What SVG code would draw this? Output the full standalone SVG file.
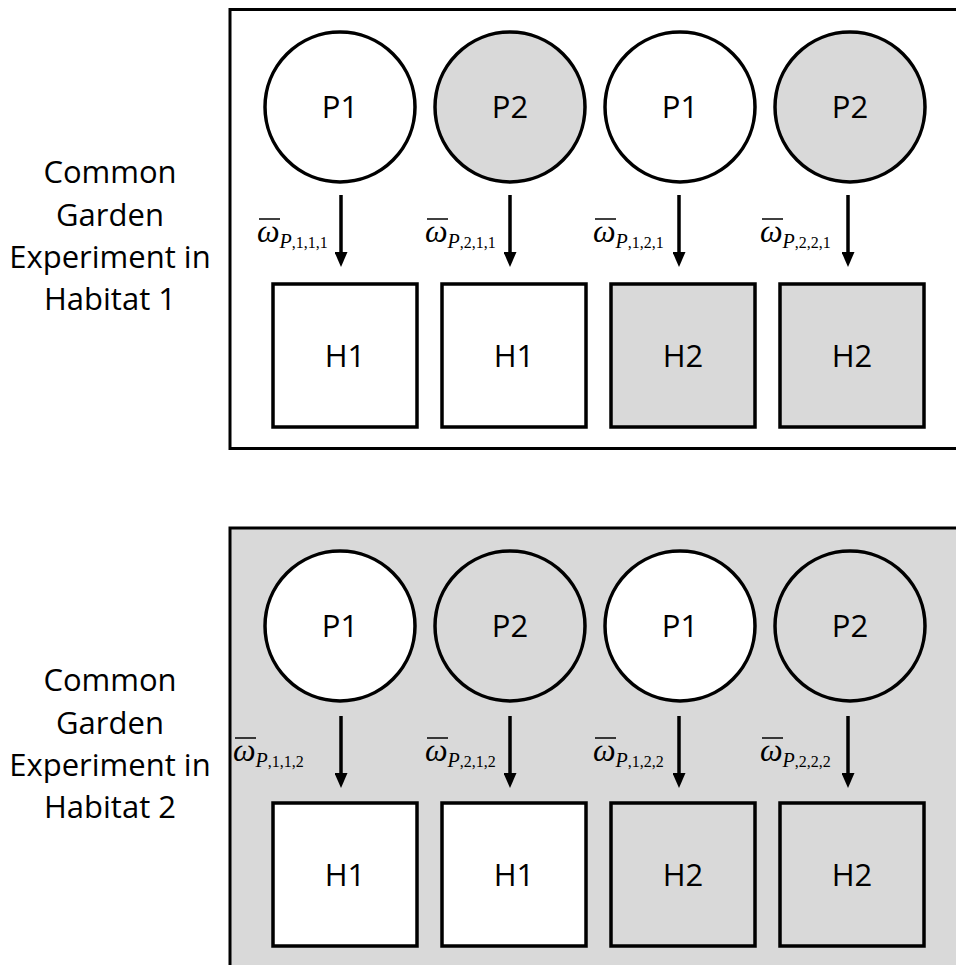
<svg xmlns="http://www.w3.org/2000/svg" width="956" height="965" viewBox="0 0 956 965">
<defs>
<style>
.frame{stroke:#000;stroke-width:3}
.node{stroke:#000;stroke-width:3.5}
.w{fill:#fff}
.g{fill:#d9d9d9}
.lbl{font-family:"Open Sans","Noto Sans",sans-serif;font-size:31px;fill:#000;text-anchor:middle}
.om{font-family:"Liberation Serif",serif;fill:#000}
.bar{stroke:#000;stroke-width:1.5}
.arr{stroke:#000;stroke-width:3.5;fill:none}
</style>
<marker id="ah" markerUnits="userSpaceOnUse" markerWidth="15" markerHeight="13" refX="0" refY="6.5" orient="auto" viewBox="0 0 15 13">
<path d="M0,0 L15,6.5 L0,13 Z" fill="#000"/>
</marker>
</defs>
<rect width="956" height="965" fill="#fff"/>

<g id="frame1"><rect class="frame" x="230" y="9.5" width="800" height="439" fill="#fff"/></g>
<g id="frame2"><rect class="frame" x="230" y="528" width="800" height="500" fill="#d9d9d9"/></g>

<g id="label1" class="lbl">
<text x="110" y="183">Common</text>
<text x="110" y="226">Garden</text>
<text x="110" y="268">Experiment in</text>
<text x="110" y="310">Habitat 1</text>
</g>
<g id="label2" class="lbl">
<text x="110" y="691">Common</text>
<text x="110" y="734">Garden</text>
<text x="110" y="776">Experiment in</text>
<text x="110" y="818">Habitat 2</text>
</g>

<!-- top row nodes -->
<g id="t-p1a"><circle class="node w" cx="340" cy="107" r="75"/><text class="lbl" x="340" y="118">P1</text></g>
<g id="t-p2a"><circle class="node g" cx="510" cy="107" r="75"/><text class="lbl" x="510" y="118">P2</text></g>
<g id="t-p1b"><circle class="node w" cx="680" cy="107" r="75"/><text class="lbl" x="680" y="118">P1</text></g>
<g id="t-p2b"><circle class="node g" cx="850" cy="107" r="75"/><text class="lbl" x="850" y="118">P2</text></g>
<g id="t-h1a"><rect class="node w" x="273" y="284" width="144" height="143"/><text class="lbl" x="345" y="367">H1</text></g>
<g id="t-h1b"><rect class="node w" x="442" y="284" width="144" height="143"/><text class="lbl" x="514" y="367">H1</text></g>
<g id="t-h2a"><rect class="node g" x="611" y="284" width="144" height="143"/><text class="lbl" x="683" y="367">H2</text></g>
<g id="t-h2b"><rect class="node g" x="780" y="284" width="144" height="143"/><text class="lbl" x="852" y="367">H2</text></g>

<!-- bottom row nodes -->
<g id="b-p1a"><circle class="node w" cx="340" cy="626" r="75"/><text class="lbl" x="340" y="637">P1</text></g>
<g id="b-p2a"><circle class="node g" cx="510" cy="626" r="75"/><text class="lbl" x="510" y="637">P2</text></g>
<g id="b-p1b"><circle class="node w" cx="680" cy="626" r="75"/><text class="lbl" x="680" y="637">P1</text></g>
<g id="b-p2b"><circle class="node g" cx="850" cy="626" r="75"/><text class="lbl" x="850" y="637">P2</text></g>
<g id="b-h1a"><rect class="node w" x="273" y="803" width="144" height="143"/><text class="lbl" x="345" y="886">H1</text></g>
<g id="b-h1b"><rect class="node w" x="442" y="803" width="144" height="143"/><text class="lbl" x="514" y="886">H1</text></g>
<g id="b-h2a"><rect class="node g" x="611" y="803" width="144" height="143"/><text class="lbl" x="683" y="886">H2</text></g>
<g id="b-h2b"><rect class="node g" x="780" y="803" width="144" height="143"/><text class="lbl" x="852" y="886">H2</text></g>

<g id="connectors">
<line class="arr" x1="341" y1="195" x2="341" y2="252" marker-end="url(#ah)"/>
<line class="arr" x1="510" y1="195" x2="510" y2="252" marker-end="url(#ah)"/>
<line class="arr" x1="679" y1="195" x2="679" y2="252" marker-end="url(#ah)"/>
<line class="arr" x1="848" y1="195" x2="848" y2="252" marker-end="url(#ah)"/>
<line class="arr" x1="341" y1="716" x2="341" y2="773" marker-end="url(#ah)"/>
<line class="arr" x1="510" y1="716" x2="510" y2="773" marker-end="url(#ah)"/>
<line class="arr" x1="679" y1="716" x2="679" y2="773" marker-end="url(#ah)"/>
<line class="arr" x1="848" y1="716" x2="848" y2="773" marker-end="url(#ah)"/>
</g>

<g id="edge-labels">
<g id="l-t1"><line class="bar" x1="259" y1="219" x2="280" y2="219"/><text class="om" x="257" y="242"><tspan font-size="32" font-style="italic">ω</tspan><tspan font-size="20" font-style="italic" dy="6">P</tspan><tspan font-size="16">,1,1,1</tspan></text></g>
<g id="l-t2"><line class="bar" x1="427" y1="219" x2="448" y2="219"/><text class="om" x="425" y="242"><tspan font-size="32" font-style="italic">ω</tspan><tspan font-size="20" font-style="italic" dy="6">P</tspan><tspan font-size="16">,2,1,1</tspan></text></g>
<g id="l-t3"><line class="bar" x1="595" y1="219" x2="616" y2="219"/><text class="om" x="593" y="242"><tspan font-size="32" font-style="italic">ω</tspan><tspan font-size="20" font-style="italic" dy="6">P</tspan><tspan font-size="16">,1,2,1</tspan></text></g>
<g id="l-t4"><line class="bar" x1="762" y1="219" x2="783" y2="219"/><text class="om" x="760" y="242"><tspan font-size="32" font-style="italic">ω</tspan><tspan font-size="20" font-style="italic" dy="6">P</tspan><tspan font-size="16">,2,2,1</tspan></text></g>
<g id="l-b1"><line class="bar" x1="235" y1="738" x2="256" y2="738"/><text class="om" x="233" y="761"><tspan font-size="32" font-style="italic">ω</tspan><tspan font-size="20" font-style="italic" dy="6">P</tspan><tspan font-size="16">,1,1,2</tspan></text></g>
<g id="l-b2"><line class="bar" x1="427" y1="738" x2="448" y2="738"/><text class="om" x="425" y="761"><tspan font-size="32" font-style="italic">ω</tspan><tspan font-size="20" font-style="italic" dy="6">P</tspan><tspan font-size="16">,2,1,2</tspan></text></g>
<g id="l-b3"><line class="bar" x1="595" y1="738" x2="616" y2="738"/><text class="om" x="593" y="761"><tspan font-size="32" font-style="italic">ω</tspan><tspan font-size="20" font-style="italic" dy="6">P</tspan><tspan font-size="16">,1,2,2</tspan></text></g>
<g id="l-b4"><line class="bar" x1="762" y1="738" x2="783" y2="738"/><text class="om" x="760" y="761"><tspan font-size="32" font-style="italic">ω</tspan><tspan font-size="20" font-style="italic" dy="6">P</tspan><tspan font-size="16">,2,2,2</tspan></text></g>
</g>
</svg>
